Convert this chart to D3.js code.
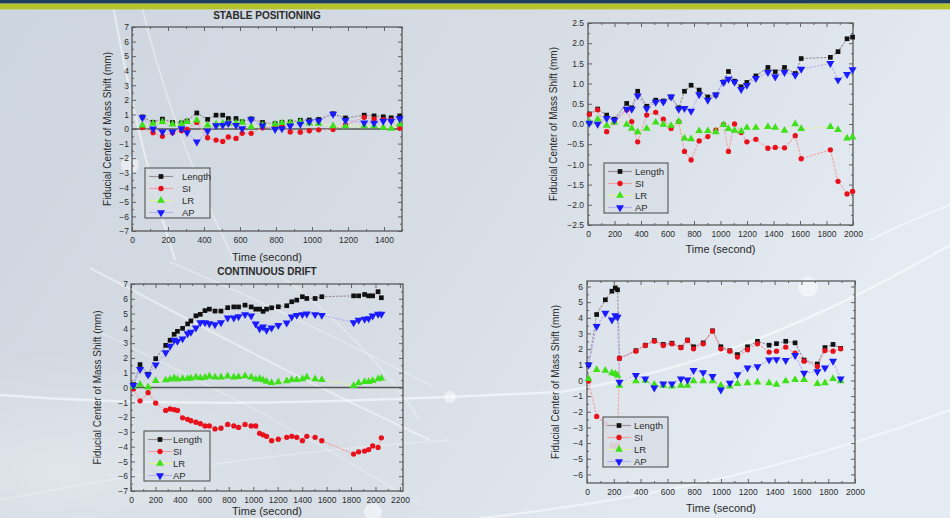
<!DOCTYPE html>
<html><head><meta charset="utf-8">
<script src="https://cdn.jsdelivr.net/npm/d3@7"></script>
<style>html,body{margin:0;padding:0;overflow:hidden;background:#d6dce3}</style>
</head><body><svg id="c" width="950" height="518"></svg>
<script>
// ---------------- DATA ----------------
const seriesNames = ["Length", "SI", "LR", "AP"];
const panelTitles = ["STABLE POSITIONING", "", "CONTINUOUS DRIFT", ""];
const xAxisTitle = "Time (second)";
const yAxisTitle = "Fiducial Center of Mass Shift (mm)";

// Panel 1 – stable positioning
const p1Time   = [58,117,169,225,275,306,360,420,467,504,535,578,612,662,725,795,833,879,935,985,1037,1117,1186,1290,1345,1396,1440,1487];
const p1Length = [0.83,0.46,0.68,0.45,0.42,0.55,1.1,0.66,0.95,0.95,0.72,0.72,0.5,0.7,0.45,0.37,0.45,0.48,0.6,0.62,0.66,1.05,0.76,0.95,0.9,0.84,0.77,0.9];
const p1SI     = [0.1,-0.25,-0.5,-0.25,-0.12,-0.02,0.45,-0.6,-0.76,-0.85,-0.55,-0.65,-0.3,-0.3,0.08,0.15,0.2,-0.2,-0.22,-0.12,-0.06,-0.03,0.3,0.8,0.7,0.65,0.6,0.05];
const p1LR     = [0.26,0.38,0.49,0.33,0.38,0.49,0.6,0.26,0.33,0.38,0.38,0.4,0.45,0.15,0.26,0.33,0.42,0.42,0.49,0.4,0.38,0.2,0.2,0.2,0.2,0.1,0.03,0.33];
const p1AP     = [0.79,0.01,-0.19,-0.19,0.03,-0.24,-0.88,-0.15,0.24,0.26,0.38,0.26,0.03,0.65,0.22,-0.03,0.03,0.22,0.33,0.5,0.56,1.02,0.6,0.42,0.4,0.55,0.55,0.72];
const p1XTicks = [0,200,400,600,800,1000,1200,1400];
const p1YTicks = [-7,-6,-5,-4,-3,-2,-1,0,1,2,3,4,5,6,7];

// Panel 2
const p2Time   = [10,73,141,199,292,330,375,443,511,569,627,685,728,778,839,904,965,1023,1060,1106,1156,1199,1267,1358,1413,1483,1564,1609,1829,1887,1955,1997];
const p2Length = [0.25,0.37,0.22,0.12,0.51,0.4,0.81,0.44,0.59,0.57,0.67,0.4,0.81,0.96,0.84,0.67,0.72,1.04,1.3,1.06,0.92,1.03,1.19,1.4,1.29,1.4,1.25,1.62,1.65,1.79,2.11,2.15];
const p2SI     = [0.24,0.35,-0.19,0.05,0.35,0.06,-0.44,0.22,0.29,0.12,-0.11,0.06,-0.68,-0.89,-0.42,-0.31,-0.15,-0.01,-0.68,0.0,-0.21,-0.44,-0.38,-0.6,-0.58,-0.59,-0.29,-0.86,-0.64,-1.42,-1.73,-1.67];
const p2LR     = [0.05,0.12,-0.04,0.04,-0.01,-0.11,-0.2,-0.11,0.04,-0.01,-0.04,0.06,-0.35,-0.37,-0.17,-0.17,-0.2,-0.02,-0.12,-0.16,-0.18,-0.09,-0.09,-0.07,-0.09,-0.16,0.0,-0.12,-0.07,-0.14,-0.35,-0.33];
const p2AP     = [0.02,0.0,0.14,0.1,0.37,0.37,0.7,0.38,0.54,0.55,0.67,0.37,0.39,0.32,0.73,0.59,0.72,1.03,1.11,1.04,0.86,0.96,1.13,1.28,1.17,1.28,1.21,1.36,1.5,1.09,1.23,1.35];
const p2XTicks = [0,200,400,600,800,1000,1200,1400,1600,1800,2000];
const p2YTicks = [-2.5,-2.0,-1.5,-1.0,-0.5,0,0.5,1.0,1.5,2.0,2.5];

// Panel 3 – continuous drift
const p3Time   = [20,74,140,202,284,320,353,380,422,463,490,531,567,605,641,687,736,791,841,880,933,983,1020,1052,1080,1109,1150,1205,1274,1315,1356,1402,1438,1506,1561,1821,1862,1911,1944,1977,2021,2048];
const p3Length = [0.2,1.55,0.9,1.95,2.85,3.2,3.6,3.8,4.0,4.3,4.5,4.85,4.95,5.2,5.3,5.17,5.17,5.4,5.45,5.45,5.57,5.45,5.3,5.3,5.15,5.3,5.39,5.46,5.53,5.8,5.91,6.14,6.02,6.02,6.14,6.2,6.2,6.29,6.2,6.2,6.48,6.07];
const p3SI     = [-0.1,-0.9,-0.35,-1.05,-1.55,-1.45,-1.5,-1.55,-2.05,-2.15,-2.25,-2.35,-2.45,-2.6,-2.6,-2.8,-2.75,-2.5,-2.6,-2.7,-2.5,-2.6,-2.6,-3.1,-3.2,-3.3,-3.6,-3.5,-3.37,-3.3,-3.37,-3.6,-3.3,-3.37,-3.6,-4.5,-4.35,-4.3,-4.2,-3.95,-4.05,-3.4];
const p3LR     = [0.05,0.2,0.02,0.45,0.5,0.55,0.64,0.55,0.6,0.6,0.62,0.69,0.64,0.68,0.76,0.69,0.69,0.76,0.69,0.72,0.78,0.69,0.55,0.6,0.5,0.41,0.32,0.37,0.44,0.53,0.53,0.58,0.69,0.58,0.53,0.12,0.3,0.39,0.39,0.46,0.58,0.62];
const p3AP     = [0.14,1.23,0.85,1.54,2.36,2.8,3.2,3.13,3.3,3.65,3.75,4.03,4.39,4.39,4.32,4.26,4.39,4.71,4.71,4.8,4.94,4.85,4.3,3.98,4.1,3.88,4.03,4.21,4.37,4.78,4.89,4.94,4.98,4.94,4.89,4.39,4.56,4.62,4.67,4.85,4.96,4.96];
const p3XTicks = [0,200,400,600,800,1000,1200,1400,1600,1800,2000,2200];
const p3YTicks = [-7,-6,-5,-4,-3,-2,-1,0,1,2,3,4,5,6,7];

// Panel 4
const p4Time   = [12,72,137,186,211,228,242,365,435,502,569,634,701,750,795,867,937,999,1066,1123,1198,1272,1359,1414,1483,1553,1620,1719,1776,1836,1893];
const p4Length = [1.0,4.21,5.15,5.7,5.91,5.79,1.42,1.9,2.25,2.55,2.3,2.38,2.12,2.58,2.15,2.4,3.17,2.15,1.9,1.65,2.15,2.5,2.25,2.35,2.5,2.4,1.3,1.05,2.1,2.3,2.05];
const p4SI     = [-0.04,-2.3,-2.75,-4.15,-4.2,-4.1,1.42,1.87,2.23,2.51,2.23,2.34,2.09,2.55,2.02,2.34,3.15,2.02,1.87,1.49,1.96,2.34,1.81,1.87,2.13,1.74,1.23,0.89,1.91,1.87,2.02];
const p4LR     = [0.1,0.68,0.64,0.47,0.43,0.32,-0.32,-0.04,0.0,-0.26,-0.32,-0.38,-0.32,-0.32,-0.04,-0.04,-0.04,-0.32,-0.38,-0.21,-0.17,-0.11,-0.17,-0.26,-0.04,0.04,0.04,-0.21,-0.17,0.11,-0.04];
const p4AP     = [1.0,3.45,4.3,3.87,4.15,4.04,-0.1,0.32,0.11,-0.47,-0.21,-0.21,0.11,0.04,0.64,0.51,0.26,-0.6,-0.17,0.38,0.81,0.89,1.32,1.34,1.28,1.6,0.47,0.57,0.81,1.23,0.11];
const p4XTicks = [0,200,400,600,800,1000,1200,1400,1600,1800,2000];
const p4YTicks = [-6,-5,-4,-3,-2,-1,0,1,2,3,4,5,6];

// ---------------- STYLE / LAYOUT ----------------
const FONT = "'Liberation Sans', Arial, sans-serif";
const markerColor = {Length:"#111111", SI:"#e8101a", LR:"#3ee01c", AP:"#1a1aff"};
const lineColor   = {Length:"#9c9098", SI:"#f2a0a6", LR:"#e2f59a", AP:"#b8b0f2"};
const symbolType  = {Length:d3.symbolSquare, SI:d3.symbolCircle, LR:d3.symbolTriangle, AP:d3.symbolTriangle};
const symbolSize  = {Length:22, SI:22, LR:26, AP:28};
const intFmt = d3.format("d");

const panels = [
  {time:p1Time, vals:[p1Length,p1SI,p1LR,p1AP], xDomain:[0,1500], yDomain:[-7,7], xTicks:p1XTicks, yTicks:p1YTicks,
   yFmt:intFmt, box:{l:132,r:402,t:27,b:231}, title:panelTitles[0], titleY:15, xlabY:257, ylabX:107, zero:true,
   legend:{x:145,y:168,w:65,h:50,text:37}, ypad:3},
  {time:p2Time, vals:[p2Length,p2SI,p2LR,p2AP], xDomain:[0,2000], yDomain:[-2.5,2.5], xTicks:p2XTicks, yTicks:p2YTicks,
   yFmt:d3.format(".1f"), box:{l:588,r:853,t:23,b:225}, title:panelTitles[1], titleY:0, xlabY:249, ylabX:553, zero:false,
   legend:{x:604,y:163,w:64,h:50,text:31}, ypad:4},
  {time:p3Time, vals:[p3Length,p3SI,p3LR,p3AP], xDomain:[0,2225], yDomain:[-7,7], xTicks:p3XTicks, yTicks:p3YTicks,
   yFmt:intFmt, box:{l:131,r:403,t:284,b:491}, title:panelTitles[2], titleY:271, xlabY:511, ylabX:97, zero:true,
   legend:{x:144,y:431,w:66,h:50,text:29}, ypad:3},
  {time:p4Time, vals:[p4Length,p4SI,p4LR,p4AP], xDomain:[0,2000], yDomain:[-6.55,6.35], xTicks:p4XTicks, yTicks:p4YTicks,
   yFmt:intFmt, box:{l:587,r:855,t:281,b:483}, title:panelTitles[3], titleY:0, xlabY:508, ylabX:555, zero:false,
   legend:{x:603,y:417,w:65,h:50,text:31}, ypad:4}
];

// ---------------- BACKGROUND ----------------
const svg = d3.select("#c");
const defs = svg.append("defs");
const lg = defs.append("linearGradient").attr("id","bg").attr("x1",0).attr("y1",0).attr("x2",1).attr("y2",0.35);
lg.append("stop").attr("offset",0).attr("stop-color","#cdd5de");
lg.append("stop").attr("offset",0.55).attr("stop-color","#d6dde5");
lg.append("stop").attr("offset",1).attr("stop-color","#e4ebf2");
const rg = defs.append("radialGradient").attr("id","glow");
rg.append("stop").attr("offset",0).attr("stop-color","#ffffff").attr("stop-opacity",0.9);
rg.append("stop").attr("offset",1).attr("stop-color","#ffffff").attr("stop-opacity",0);

svg.append("rect").attr("width",950).attr("height",518).attr("fill","url(#bg)");
svg.append("ellipse").attr("cx",60).attr("cy",470).attr("rx",260).attr("ry",120).attr("fill","url(#glow)").attr("opacity",0.35);

const swooshes = [
  {d:"M112,0 C125,70 140,150 175,260", w:2.2, o:0.5},
  {d:"M140,0 C160,80 185,160 235,262", w:1.6, o:0.4},
  {d:"M90,268 C190,320 300,380 430,440", w:2.2, o:0.45},
  {d:"M170,262 C260,300 340,340 430,385", w:1.6, o:0.35},
  {d:"M260,262 C320,300 380,360 420,420", w:1.4, o:0.35},
  {d:"M95,330 C200,380 300,430 420,505", w:1.4, o:0.3},
  {d:"M0,395 C200,410 380,400 560,392 C700,370 820,320 950,245", w:2.5, o:0.55},
  {d:"M480,518 C600,505 760,480 950,410", w:2.2, o:0.5},
  {d:"M0,500 C150,470 300,450 450,440", w:1.5, o:0.3},
  {d:"M870,240 C900,225 925,215 950,205", w:2, o:0.5}
];
svg.append("g").selectAll("path").data(swooshes).join("path")
  .attr("d",d=>d.d).attr("fill","none").attr("stroke","#ffffff")
  .attr("stroke-width",d=>d.w).attr("stroke-opacity",d=>d.o);
const glows = [{x:130,y:165,r:9},{x:808,y:287,r:10},{x:373,y:512,r:9},{x:450,y:397,r:6}];
svg.append("g").selectAll("circle").data(glows).join("circle")
  .attr("cx",d=>d.x).attr("cy",d=>d.y).attr("r",d=>d.r).attr("fill","#ffffff").attr("opacity",0.5);

svg.append("rect").attr("x",0).attr("y",0).attr("width",950).attr("height",3.6).attr("fill","#1d3c60");
svg.append("rect").attr("x",0).attr("y",3.6).attr("width",950).attr("height",5.8).attr("fill","#b6c42c");

// ---------------- PANELS ----------------
function styleAxis(sel, fs){
  sel.select(".domain").remove();
  sel.selectAll(".tick line").attr("stroke","#555").attr("stroke-width",0.9);
  sel.selectAll(".tick text").attr("font-family",FONT).attr("font-size",fs).attr("fill","#2c2c2c");
}
function minorTicks(ticks){
  const out=[]; for(let i=0;i<ticks.length-1;i++) out.push((ticks[i]+ticks[i+1])/2); return out;
}

panels.forEach((p)=>{
  const b=p.box;
  const x=d3.scaleLinear().domain(p.xDomain).range([b.l,b.r]);
  const y=d3.scaleLinear().domain(p.yDomain).range([b.b,b.t]);
  const g=svg.append("g");

  const step=p.xTicks[1]-p.xTicks[0];
  const xMinor = minorTicks(p.xTicks).concat([p.xTicks[p.xTicks.length-1]+step/2]).filter(v=>v<=p.xDomain[1]);
  const yMinor = minorTicks(p.yTicks);
  g.append("g").attr("transform",`translate(0,${b.b})`)
    .call(d3.axisBottom(x).tickValues(p.xTicks).tickSize(-4).tickPadding(6).tickFormat(intFmt)).call(s=>styleAxis(s,8.5));
  g.append("g").attr("transform",`translate(0,${b.b})`)
    .call(d3.axisBottom(x).tickValues(xMinor).tickSize(-2).tickFormat("")).call(s=>styleAxis(s,8.5));
  g.append("g").attr("transform",`translate(0,${b.t})`)
    .call(d3.axisTop(x).tickValues(p.xTicks).tickSize(-4).tickFormat("")).call(s=>styleAxis(s,8.5));
  g.append("g").attr("transform",`translate(0,${b.t})`)
    .call(d3.axisTop(x).tickValues(xMinor).tickSize(-2).tickFormat("")).call(s=>styleAxis(s,8.5));
  g.append("g").attr("transform",`translate(${b.l},0)`)
    .call(d3.axisLeft(y).tickValues(p.yTicks).tickSize(-4).tickPadding(p.ypad).tickFormat(p.yFmt)).call(s=>styleAxis(s,8.5));
  g.append("g").attr("transform",`translate(${b.l},0)`)
    .call(d3.axisLeft(y).tickValues(yMinor).tickSize(-2).tickFormat("")).call(s=>styleAxis(s,8.5));
  g.append("g").attr("transform",`translate(${b.r},0)`)
    .call(d3.axisRight(y).tickValues(p.yTicks).tickSize(-4).tickFormat("")).call(s=>styleAxis(s,8.5));
  g.append("g").attr("transform",`translate(${b.r},0)`)
    .call(d3.axisRight(y).tickValues(yMinor).tickSize(-2).tickFormat("")).call(s=>styleAxis(s,8.5));

  g.append("rect").attr("x",b.l).attr("y",b.t).attr("width",b.r-b.l).attr("height",b.b-b.t)
    .attr("fill","none").attr("stroke","#5a5a5a").attr("stroke-width",1.3);

  if(p.zero){
    g.append("line").attr("x1",b.l).attr("x2",b.r).attr("y1",y(0)).attr("y2",y(0))
      .attr("stroke","#555").attr("stroke-width",1.4);
  }

  const series = seriesNames.map((name,i)=>({name, pts:p.time.map((t,k)=>({t, v:p.vals[i][k]}))}));
  const line = d3.line().x(d=>x(d.t)).y(d=>y(d.v));
  g.append("g").selectAll("path").data(series).join("path")
    .attr("d",d=>line(d.pts)).attr("fill","none")
    .attr("stroke",d=>lineColor[d.name]).attr("stroke-width",1.1).attr("stroke-dasharray","2.5,1.2");
  series.forEach(s=>{
    const sym=d3.symbol().type(symbolType[s.name]).size(symbolSize[s.name]);
    g.append("g").selectAll("path").data(s.pts).join("path")
      .attr("d",sym)
      .attr("transform",d=>`translate(${x(d.t)},${y(d.v)})${s.name==="AP"?" rotate(180)":""}`)
      .attr("fill",markerColor[s.name]);
  });

  const L=p.legend;
  const lgG=g.append("g");
  lgG.append("rect").attr("x",L.x).attr("y",L.y).attr("width",L.w).attr("height",L.h)
    .attr("fill","#d8dee5").attr("fill-opacity",0.92).attr("stroke","#555").attr("stroke-width",1.1);
  seriesNames.forEach((name,i)=>{
    const cy=L.y+8.5+i*12;
    lgG.append("line").attr("x1",L.x+4).attr("x2",L.x+28).attr("y1",cy).attr("y2",cy)
      .attr("stroke",lineColor[name]).attr("stroke-width",1.2);
    lgG.append("path").attr("d",d3.symbol().type(symbolType[name]).size(symbolSize[name]))
      .attr("transform",`translate(${L.x+16},${cy})${name==="AP"?" rotate(180)":""}`)
      .attr("fill",markerColor[name]);
    lgG.append("text").attr("x",L.x+L.text).attr("y",cy).attr("dy","0.35em")
      .attr("font-family",FONT).attr("font-size",9.5).attr("fill","#2c2c2c").text(name);
  });

  const cx=(b.l+b.r)/2;
  if(p.title){
    g.append("text").attr("x",cx).attr("y",p.titleY).attr("dy","0.35em").attr("text-anchor","middle")
      .attr("font-family",FONT).attr("font-weight","bold").attr("font-size",10).attr("fill","#2a2a2a").text(p.title);
  }
  g.append("text").attr("x",cx).attr("y",p.xlabY).attr("dy","0.35em").attr("text-anchor","middle")
    .attr("font-family",FONT).attr("font-size",11).attr("fill","#2a2a2a").text(xAxisTitle);
  g.append("text").attr("transform",`translate(${p.ylabX},${(b.t+b.b)/2}) rotate(-90)`).attr("dy","0.35em")
    .attr("text-anchor","middle").attr("font-family",FONT).attr("font-size",10).attr("fill","#2a2a2a").text(yAxisTitle);
});
</script></body></html>
